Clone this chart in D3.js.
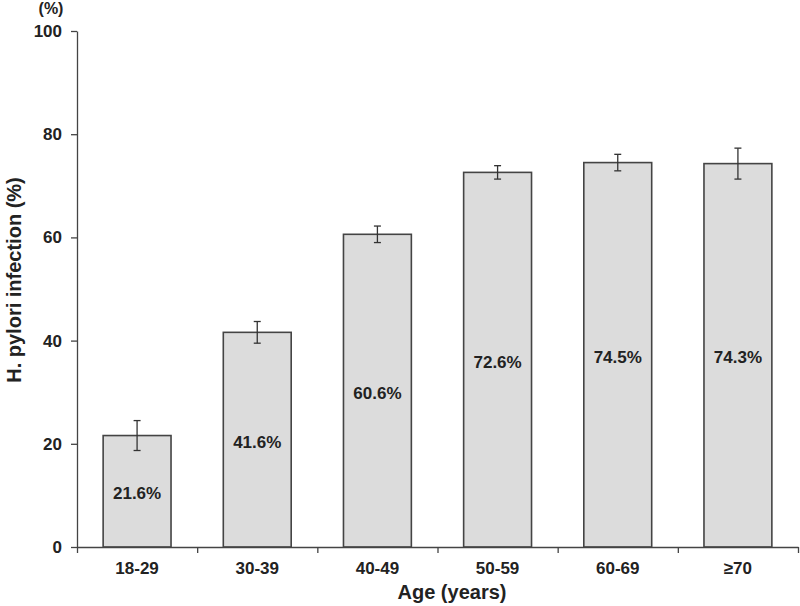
<!DOCTYPE html>
<html>
<head>
<meta charset="utf-8">
<script src="https://cdn.jsdelivr.net/npm/d3@7"></script>
<style>
  body { margin: 0; background: #fff; }
  svg text { font-family: "Liberation Sans", Arial, sans-serif; font-weight: bold; fill: #222; }
</style>
</head>
<body>
<div id="chart"></div>
<script>
const ageGroups = ["18-29", "30-39", "40-49", "50-59", "60-69", "\u226570"];
const infectionRate = [21.6, 41.6, 60.6, 72.6, 74.5, 74.3];
const errorHalf = [2.9, 2.1, 1.6, 1.3, 1.6, 3.0];
const yTicks = [0, 20, 40, 60, 80, 100];

const width = 800, height = 606;
const margin = { top: 31, right: 2, bottom: 59, left: 77 };

const svg = d3.select("#chart")
    .append("svg")
    .attr("width", width)
    .attr("height", height);

const data = ageGroups.map((g, i) => ({ group: g, value: infectionRate[i], err: errorHalf[i] }));

const xScale = d3.scaleBand()
    .domain(ageGroups)
    .range([margin.left, width - margin.right])
    .paddingInner(0.435)
    .paddingOuter(0.2175);

const yScale = d3.scaleLinear()
    .domain([0, 100])
    .range([height - margin.bottom, margin.top]);

// bars
svg.selectAll(".bar")
    .data(data)
    .enter()
    .append("rect")
    .attr("class", "bar")
    .attr("x", d => xScale(d.group))
    .attr("y", d => yScale(d.value))
    .attr("width", xScale.bandwidth())
    .attr("height", d => yScale(0) - yScale(d.value))
    .attr("fill", "#dcdcdc")
    .attr("stroke", "#444")
    .attr("stroke-width", 1.6);

// error bars
const eb = svg.selectAll(".err")
    .data(data)
    .enter()
    .append("g")
    .attr("class", "err")
    .attr("stroke", "#333")
    .attr("stroke-width", 1.3);

eb.append("line")
    .attr("x1", d => xScale(d.group) + xScale.bandwidth() / 2)
    .attr("x2", d => xScale(d.group) + xScale.bandwidth() / 2)
    .attr("y1", d => yScale(d.value + d.err))
    .attr("y2", d => yScale(d.value - d.err));

eb.selectAll(".cap")
    .data(d => [d.value + d.err, d.value - d.err].map(v => ({ g: d.group, v: v })))
    .enter()
    .append("line")
    .attr("class", "cap")
    .attr("x1", d => xScale(d.g) + xScale.bandwidth() / 2 - 3.5)
    .attr("x2", d => xScale(d.g) + xScale.bandwidth() / 2 + 3.5)
    .attr("y1", d => yScale(d.v))
    .attr("y2", d => yScale(d.v));

// value labels in the middle of each bar
svg.selectAll(".bar-label")
    .data(data)
    .enter()
    .append("text")
    .attr("class", "bar-label")
    .attr("x", d => xScale(d.group) + xScale.bandwidth() / 2)
    .attr("y", d => (yScale(d.value) + yScale(0)) / 2 + 2)
    .attr("dy", "0.35em")
    .attr("text-anchor", "middle")
    .style("font-size", "17px")
    .text(d => d.value.toFixed(1) + "%");

// y axis
svg.append("g")
    .attr("transform", `translate(${margin.left},0)`)
    .call(d3.axisLeft(yScale).tickValues(yTicks).tickSize(6).tickPadding(9).tickSizeOuter(0))
    .call(g => g.selectAll("line, path").attr("stroke", "#444").attr("stroke-width", 1.3))
    .call(g => g.selectAll("text").style("font-size", "17px").style("font-family", null).attr("fill", null));

// x axis: tick marks at band boundaries
const edgeScale = d3.scaleLinear()
    .domain([0, ageGroups.length])
    .range([margin.left, width - margin.right]);

svg.append("g")
    .attr("transform", `translate(0,${yScale(0)})`)
    .call(d3.axisBottom(edgeScale).ticks(ageGroups.length).tickSize(6).tickFormat("").tickSizeOuter(0))
    .call(g => g.selectAll("line, path").attr("stroke", "#444").attr("stroke-width", 1.3));

// x category labels
svg.append("g")
    .attr("transform", `translate(0,${yScale(0)})`)
    .call(d3.axisBottom(xScale).tickSize(0).tickPadding(15))
    .call(g => g.select(".domain").remove())
    .call(g => g.selectAll("text").style("font-size", "17px").style("font-family", null).attr("fill", null));

// axis titles
svg.append("text")
    .attr("x", 452)
    .attr("y", 599)
    .attr("text-anchor", "middle")
    .style("font-size", "20px")
    .text("Age (years)");

svg.append("text")
    .attr("transform", "translate(21,280) rotate(-90)")
    .attr("text-anchor", "middle")
    .style("font-size", "20px")
    .text("H. pylori infection (%)");

svg.append("text")
    .attr("x", 51)
    .attr("y", 14)
    .attr("text-anchor", "middle")
    .style("font-size", "16px")
    .text("(%)");
</script>
</body>
</html>
